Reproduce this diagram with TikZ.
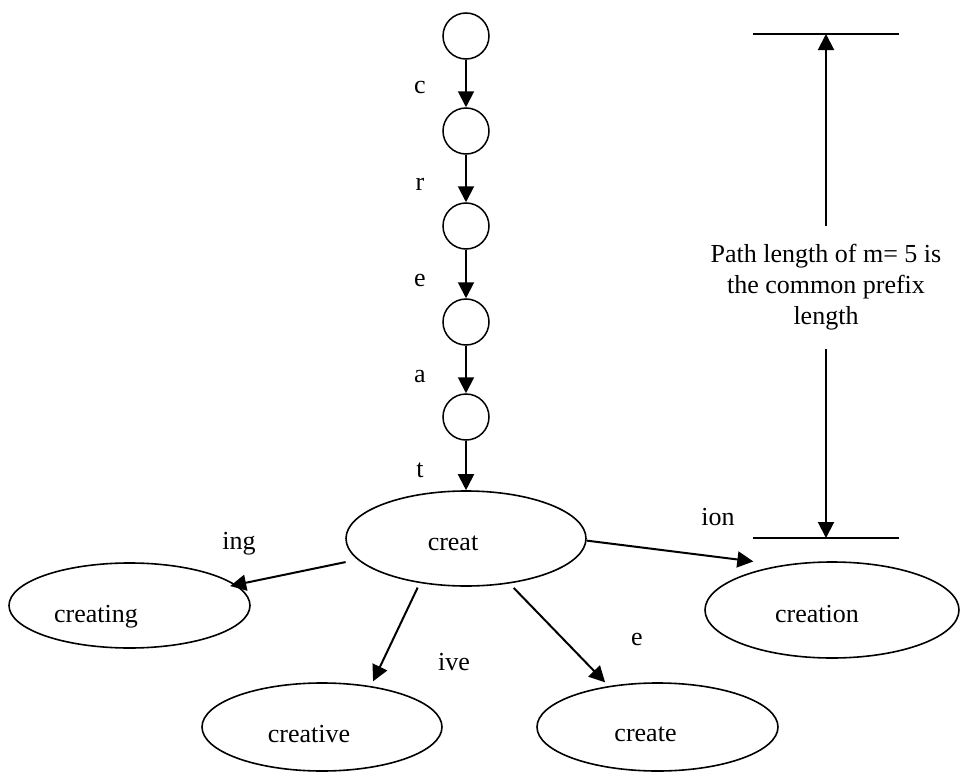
\documentclass[tikz,border=0pt]{standalone}
\usepackage{fontspec}
\setmainfont{Liberation Serif}
\usetikzlibrary{arrows.meta,shapes.geometric}
\begin{document}
\begin{tikzpicture}[x=0.5pt,y=-0.5pt,
  every node/.style={font=\fontsize{13}{15.5}\selectfont},
  state/.style={circle,draw,line width=0.75pt,minimum size=23pt,inner sep=0pt},
  word/.style={ellipse,draw,line width=0.8pt,inner sep=0pt},
  txt/.style={anchor=base,inner sep=0pt},
  arr/.style={-{Triangle[width=8pt,length=8pt]},line width=1pt},
  bar/.style={line width=1pt}]
\useasboundingbox (0,0) rectangle (960,776);

% chain of trie states for the shared prefix
\node[state] (s1) at (466,36) {};
\node[state] (s2) at (466,131) {};
\node[state] (s3) at (466,226) {};
\node[state] (s4) at (466,322) {};
\node[state] (s5) at (466,417) {};

\node[txt] (lc) at (420,93) {c};
\node[txt] (lr) at (420,190) {r};
\node[txt] (le) at (420,286) {e};
\node[txt] (la) at (420,382) {a};
\node[txt] (lt) at (420,477) {t};

% word nodes
\node[word,minimum width=120pt,minimum height=47.5pt] (creat) at (466,538.5) {};
\node[txt] (tcreat) at (453,550) {creat};
\node[word,minimum width=120.5pt,minimum height=42.5pt] (creating) at (129.5,605.5) {};
\node[txt] (tcreating) at (96,622) {creating};
\node[word,minimum width=127pt,minimum height=48pt] (creation) at (832,610) {};
\node[txt] (tcreation) at (817,622) {creation};
\node[word,minimum width=120pt,minimum height=44pt] (creative) at (322,727) {};
\node[txt] (tcreative) at (309,742) {creative};
\node[word,minimum width=120.5pt,minimum height=44pt] (create) at (657.5,727) {};
\node[txt] (tcreate) at (645.5,741) {create};

% suffix labels
\node[txt] (ling) at (239,549) {ing};
\node[txt] (lion) at (718,525) {ion};
\node[txt] (live) at (454,670) {ive};
\node[txt] (lsfe) at (637,645) {e};

% edges
\draw[arr] (s1) -- (s2);
\draw[arr] (s2) -- (s3);
\draw[arr] (s3) -- (s4);
\draw[arr] (s4) -- (s5);
\draw[arr] (s5) -- (creat);
\draw[arr,shorten <=6pt,shorten >=-3pt] (creat.191.7) -- (creating.11.3);
\draw[arr,shorten >=14.5pt] (creat.359) -- (creation.138);
\draw[arr,shorten <=2.5pt,shorten >=2.6pt] (creat.224) -- (creative.40);
\draw[arr,shorten <=3pt,shorten >=2.5pt] (creat.314) -- (create.140);

% dimension marker for the common prefix length
\coordinate (topL) at (753,34);
\coordinate (topR) at (899,34);
\coordinate (topM) at (826,34);
\coordinate (botL) at (753,538);
\coordinate (botR) at (899,538);
\coordinate (botM) at (826,538);
\coordinate (upfrom) at (826,226);
\coordinate (downfrom) at (826,349);
\draw[bar] (topL) -- (topR);
\draw[bar] (botL) -- (botR);
\draw[arr] (upfrom) -- (topM);
\draw[arr] (downfrom) -- (botM);
\node[align=center,inner sep=0pt] (dim) at (826,287)
  {Path length of m= 5 is\\the common prefix\\length};
\end{tikzpicture}
\end{document}
